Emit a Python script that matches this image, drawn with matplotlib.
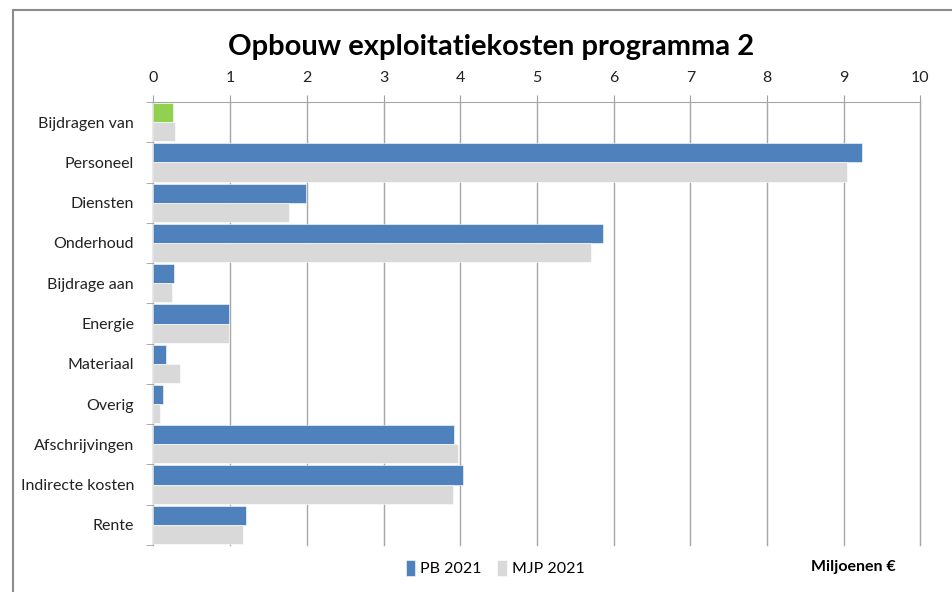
import matplotlib
matplotlib.use("Agg")
import matplotlib.pyplot as plt
import numpy as np
from matplotlib.patches import Rectangle

categories = ["Bijdragen van", "Personeel", "Diensten", "Onderhoud", "Bijdrage aan",
              "Energie", "Materiaal", "Overig", "Afschrijvingen", "Indirecte kosten", "Rente"]
pb_2021 = [0.25, 9.24, 1.99, 5.86, 0.27, 0.98, 0.16, 0.12, 3.92, 4.04, 1.21]
mjp_2021 = [0.28, 9.04, 1.77, 5.71, 0.24, 0.98, 0.35, 0.08, 3.97, 3.90, 1.17]
x_ticks = [0, 1, 2, 3, 4, 5, 6, 7, 8, 9, 10]

plt.rcParams['font.family'] = ['Lato', 'DejaVu Sans']

W, H = 953, 592
fig = plt.figure(figsize=(W / 100, H / 100), dpi=100)
fig.patch.set_facecolor("white")

# outer frame
fig.patches.append(Rectangle((13 / W, -0.1), 1.2, 1 - 10 / H + 0.1, transform=fig.transFigure,
                             fill=False, edgecolor="#8c8c8c", linewidth=1.5))

ax = fig.add_axes([153.5 / W, 1 - 545 / H, (920.5 - 153.5) / W, (545 - 102) / H])

n = len(categories)
y = np.arange(n)
bh = 0.475
colors_pb = ["#92D050"] + ["#4F81BD"] * (n - 1)
ax.barh(y - bh / 2, pb_2021, height=bh, color=colors_pb, edgecolor="white", linewidth=0.4,
        label="PB 2021", zorder=3)
ax.barh(y + bh / 2, mjp_2021, height=bh, color="#D9D9D9", edgecolor="white", linewidth=0.4,
        label="MJP 2021", zorder=3)

ax.set_xlim(0, 10)
ax.set_ylim(n - 0.5, -0.5)
ax.xaxis.tick_top()
ax.set_xticks(x_ticks)
ax.set_xticklabels([str(t) for t in x_ticks], fontsize=11.5, color="#222222")
ax.tick_params(axis="x", length=5, color="#a0a0a0", pad=7)
ax.grid(axis="x", color="#a6a6a6", linewidth=1, zorder=0)
for gl in ax.get_xgridlines():
    gl.set_clip_on(False)

ax.set_yticks(y)
ax.set_yticklabels(categories, fontsize=11.5, color="#222222")
ax.set_yticks(np.arange(n + 1) - 0.5, minor=True)
ax.tick_params(axis="y", which="major", length=0, pad=14)
ax.tick_params(axis="y", which="minor", length=5, color="#a0a0a0")

for s in ["right", "bottom"]:
    ax.spines[s].set_visible(False)
ax.spines["top"].set_color("#a6a6a6")
ax.spines["left"].set_color("#a6a6a6")

fig.text(491 / W, 1 - 47 / H, "Opbouw exploitatiekosten programma 2", ha="center", va="center",
         fontsize=21, fontweight="bold", color="black")

leg = fig.legend(handles=[ax.containers[0].patches[1], ax.containers[1].patches[0]],
                 labels=["PB 2021", "MJP 2021"], loc="center", bbox_to_anchor=(495 / W, 1 - 568 / H),
                 ncol=2, frameon=False, fontsize=11.5, handlelength=0.6, handleheight=1.2,
                 handletextpad=0.3, columnspacing=1.0)

fig.text(853 / W, 1 - 567 / H, "Miljoenen €", ha="center", va="center", fontsize=11.5,
         fontweight="bold", color="black")

fig.savefig("out.png", dpi=100, facecolor="white")
